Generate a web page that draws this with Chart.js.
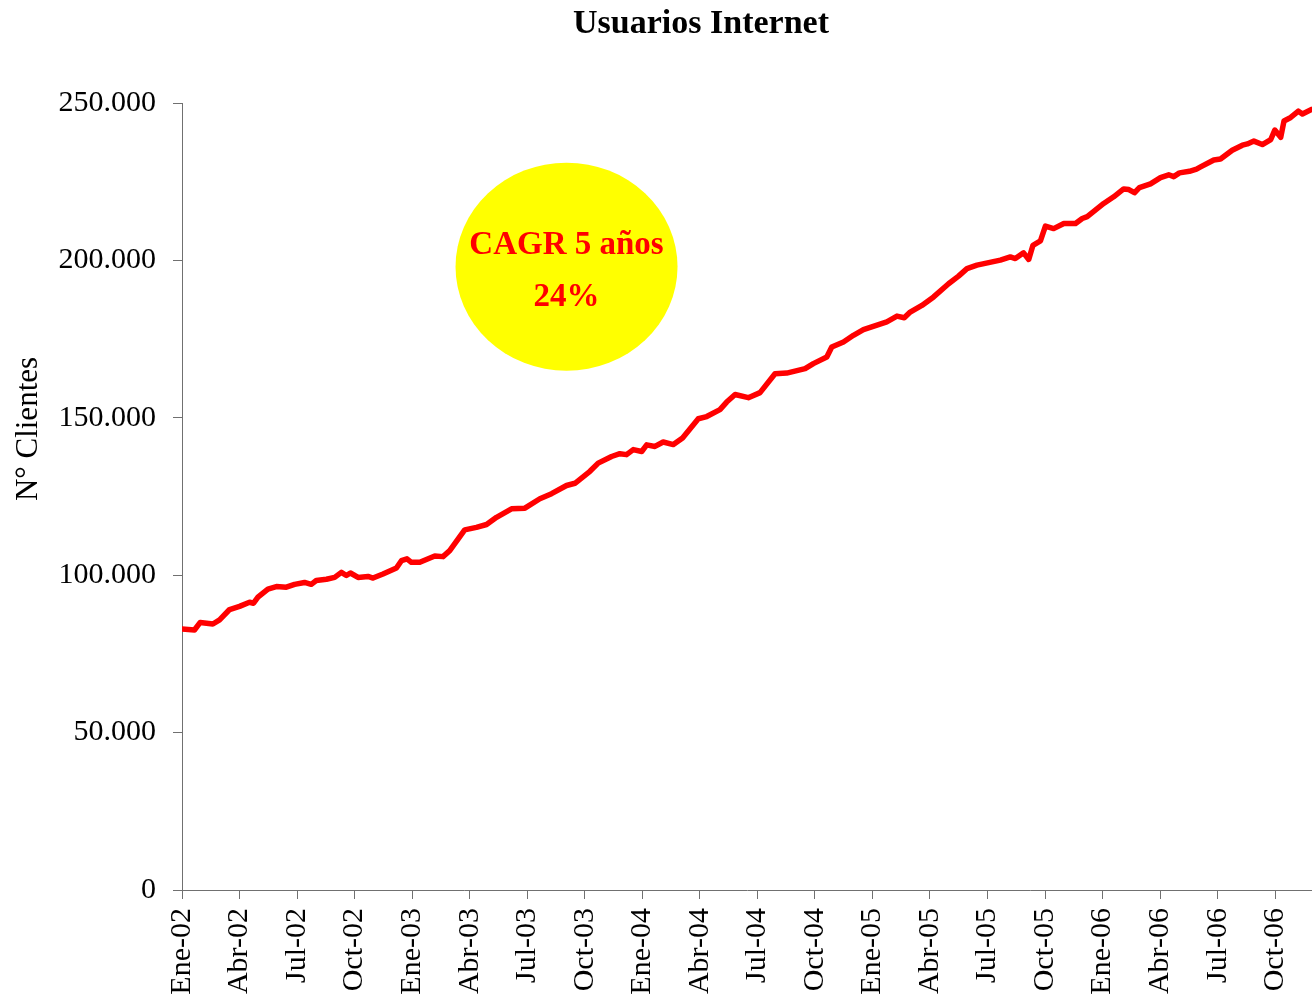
<!DOCTYPE html>
<html>
<head>
<meta charset="utf-8">
<script src="https://cdn.jsdelivr.net/npm/chart.js@4.4.1/dist/chart.umd.min.js"></script>
<style>
html,body{margin:0;padding:0;background:#fff;}
#wrap{position:relative;width:1312px;height:994px;}
</style>
</head>
<body>
<div id="wrap"><canvas id="c"></canvas></div>
<script>
// Months elapsed since Ene-02 (x position of each reading)
const months = [0,0.65,0.95,1.61,1.96,2.48,3.00,3.52,3.73,3.96,
4.48,4.92,5.44,5.87,6.39,6.74,7.00,7.53,7.96,8.31,
8.57,8.78,9.18,9.70,9.96,10.48,11.18,11.44,11.73,11.96,
12.40,13.18,13.61,13.96,14.74,15.35,15.88,16.40,17.18,17.88,
18.66,19.27,20.05,20.49,21.27,21.70,22.40,22.83,23.18,23.53,
23.97,24.23,24.66,25.09,25.62,26.10,26.92,27.36,28.05,28.40,
28.84,29.53,30.14,30.92,31.53,32.49,32.92,33.62,33.88,34.49,
35.01,35.53,36.75,37.28,37.66,37.97,38.58,39.19,39.97,40.49,
40.93,41.45,42.06,42.67,43.19,43.45,43.88,44.15,44.37,44.76,
45.02,45.45,45.98,46.59,46.94,47.20,48.06,48.58,49.10,49.37,
49.66,49.92,50.50,51.02,51.45,51.71,52.01,52.53,52.90,53.11,
53.80,54.15,54.76,55.29,55.55,55.89,56.33,56.77,56.98,57.29,
57.46,57.81,58.21,58.42,58.92];

// Nº de clientes
const users = [82900,82600,85000,84500,85800,89100,90100,91400,91100,93000,
95600,96400,96200,97100,97700,97100,98300,98700,99300,100900,
99900,100700,99300,99600,99100,100400,102300,104600,105200,104100,
104100,106100,105900,107800,114400,115200,116100,118400,121100,121300,
124300,125900,128500,129200,133000,135600,137700,138600,138300,139900,
139300,141400,140900,142300,141500,143600,149700,150400,152600,155000,
157400,156400,158000,164000,164200,165600,167200,169300,172500,174100,
176200,178000,180500,182300,181800,183600,185700,188400,192600,195000,
197400,198500,199300,200100,201100,200600,202400,200300,204800,206200,
210900,210100,211700,211700,213300,213900,218100,220200,222700,222500,
221500,223100,224300,226300,227200,226600,227800,228300,229000,229700,
231900,232200,235000,236600,237000,237900,236800,238400,241400,239100,
244300,245400,247400,246500,248000];

const quarterLabels = ["Ene-02","Abr-02","Jul-02","Oct-02","Ene-03","Abr-03","Jul-03","Oct-03",
"Ene-04","Abr-04","Jul-04","Oct-04","Ene-05","Abr-05","Jul-05","Oct-05",
"Ene-06","Abr-06","Jul-06","Oct-06"];
const quarterMonths = [0,3,6,9,12,15,18,21,24,27,30,33,36,39,42,45,48,51,54,57];

const yTicks = [0,50000,100000,150000,200000,250000];

const titleText = "Usuarios Internet";
const yTitleText = "N° Clientes";
const noteLines = ["CAGR 5 años","24%"];
const notePos = {month: 20.05, value: 198000};

const SERIF = "'Liberation Serif', 'Times New Roman', serif";

const decor = {
  id: 'decor',
  afterDraw(chart) {
    const ctx = chart.ctx;
    const xs = chart.scales.x, ys = chart.scales.y;
    ctx.save();
    // title
    ctx.fillStyle = '#000';
    ctx.font = "bold 34px " + SERIF;
    ctx.textAlign = 'center';
    ctx.textBaseline = 'alphabetic';
    ctx.fillText(titleText, 701, 33);
    // y axis title
    ctx.save();
    ctx.translate(37, 429);
    ctx.rotate(-Math.PI/2);
    ctx.font = "31px " + SERIF;
    ctx.textAlign = 'center';
    ctx.textBaseline = 'alphabetic';
    ctx.fillText(yTitleText, 0, 0);
    ctx.restore();
    // yellow bubble
    const cx = xs.getPixelForValue(notePos.month);
    const cy = ys.getPixelForValue(notePos.value);
    ctx.beginPath();
    ctx.ellipse(cx, cy, 111, 104, 0, 0, Math.PI*2);
    ctx.fillStyle = '#FFFF00';
    ctx.fill();
    ctx.fillStyle = '#FF0000';
    ctx.font = "bold 33px " + SERIF;
    ctx.textAlign = 'center';
    ctx.textBaseline = 'middle';
    ctx.fillText(noteLines[0], cx, cy - 21);
    ctx.fillText(noteLines[1], cx, cy + 31);
    ctx.restore();
  }
};

new Chart(document.getElementById('c'), {
  type: 'line',
  data: {
    datasets: [{
      label: 'Usuarios Internet',
      data: months.map((m, i) => ({x: m, y: users[i]})),
      borderColor: '#FF0000',
      borderWidth: 5.5,
      pointRadius: 0,
      pointHoverRadius: 0,
      tension: 0,
      fill: false,
      borderJoinStyle: 'round',
      borderCapStyle: 'round'
    }]
  },
  options: {
    responsive: true,
    maintainAspectRatio: false,
    animation: false,
    events: [],
    layout: { padding: { top: 103, left: 0, right: 0, bottom: 0 } },
    plugins: { legend: { display: false }, title: { display: false }, tooltip: { enabled: false } },
    scales: {
      x: {
        type: 'linear',
        min: 0,
        max: 58.92,
        afterBuildTicks(scale) { scale.ticks = quarterMonths.map(v => ({value: v})); },
        afterFit(scale) { scale.height = 104; scale.paddingLeft = 0; scale.paddingRight = 0; },
        grid: { drawOnChartArea: false, drawTicks: true, tickLength: 9, color: '#707070', tickColor: '#707070' },
        border: { display: true, color: '#707070', width: 1 },
        ticks: {
          autoSkip: false,
          minRotation: 90,
          maxRotation: 90,
          padding: 9,
          color: '#000',
          font: { family: SERIF, size: 30 },
          callback(value, index) { return quarterLabels[index]; }
        }
      },
      y: {
        min: 0,
        max: 250000,
        afterBuildTicks(scale) { scale.ticks = yTicks.map(v => ({value: v})); },
        afterFit(scale) { scale.width = 182; scale.paddingTop = 0; scale.paddingBottom = 0; },
        grid: { drawOnChartArea: false, drawTicks: true, tickLength: 9, color: '#707070', tickColor: '#707070' },
        border: { display: true, color: '#707070', width: 1 },
        ticks: {
          padding: 17,
          color: '#000',
          font: { family: SERIF, size: 30 },
          callback(value) { return value === 0 ? '0' : (value/1000) + '.000'; }
        }
      }
    }
  },
  plugins: [decor]
});
</script>
</body>
</html>
